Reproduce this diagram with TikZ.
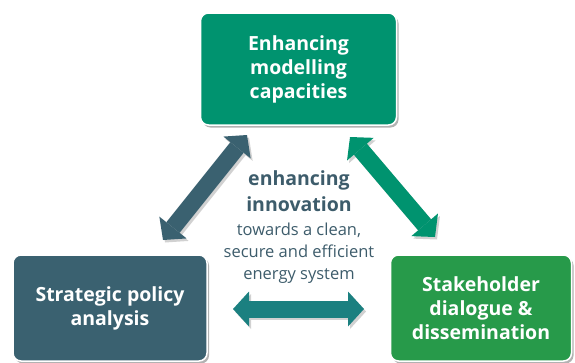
\documentclass[tikz,border=0pt]{standalone}
\usepackage{fontspec}
\setmainfont{Open Sans}
\usetikzlibrary{arrows.meta,shadows}
\definecolor{topc}{HTML}{00936F}
\definecolor{leftc}{HTML}{3A6170}
\definecolor{rightc}{HTML}{279A4A}
\definecolor{botc}{HTML}{1B8080}
\definecolor{txtc}{HTML}{3D5C6B}
\begin{document}
\begin{tikzpicture}[x=1pt,y=-1pt,
  box/.style={draw=white, line width=1.5pt, rounded corners=8pt, text=white,
    font=\bfseries\fontsize{19.5}{24}\selectfont, align=center, inner sep=0pt,
    drop shadow={shadow xshift=2pt, shadow yshift=-2.5pt, opacity=0.3, fill=black}},
  fat/.style={line width=17pt,
    {Triangle[length=16pt,width=35pt,line width=0pt]}-{Triangle[length=16pt,width=35pt,line width=0pt]}},
  fatshadow/.style={fat, draw=black!18, transform canvas={shift={(2pt,-2.5pt)}}},
  midtxt/.style={text=txtc, align=center, inner sep=0pt}
]
\useasboundingbox (0,0) rectangle (575,362);
% boxes
\node[box, fill=topc, minimum width=196pt, minimum height=112pt] (top) at (298.5,69) {Enhancing\\modelling\\capacities};
\node[box, fill=leftc, minimum width=194pt, minimum height=106pt] (left) at (110,308) {Strategic policy\\analysis};
\node[box, fill=rightc, minimum width=181pt, minimum height=106pt] (right) at (481,308) {Stakeholder\\dialogue \&\\dissemination};
% arrow end points
\coordinate (la) at (163,240);
\coordinate (lb) at (247,135);
\coordinate (ra) at (350,137);
\coordinate (rb) at (435,237);
\coordinate (ba) at (233,309);
\coordinate (bb) at (364,309);
% shadows
\draw[fatshadow] (la) -- (lb);
\draw[fatshadow] (ra) -- (rb);
\draw[fatshadow] (ba) -- (bb);
% arrows
\draw[fat, draw=leftc, fill=leftc] (la) -- (lb);
\draw[fat, draw=topc, fill=topc] (ra) -- (rb);
\draw[fat, draw=botc, fill=botc] (ba) -- (bb);
% centre text
\node[midtxt, font=\bfseries\fontsize{19.5}{26}\selectfont] (inno) at (299,191) {enhancing\\innovation};
\node[midtxt, font=\fontsize{16.5}{22}\selectfont] (tow) at (299,253) {towards a clean,\\secure and efficient\\energy system};
\end{tikzpicture}
\end{document}
